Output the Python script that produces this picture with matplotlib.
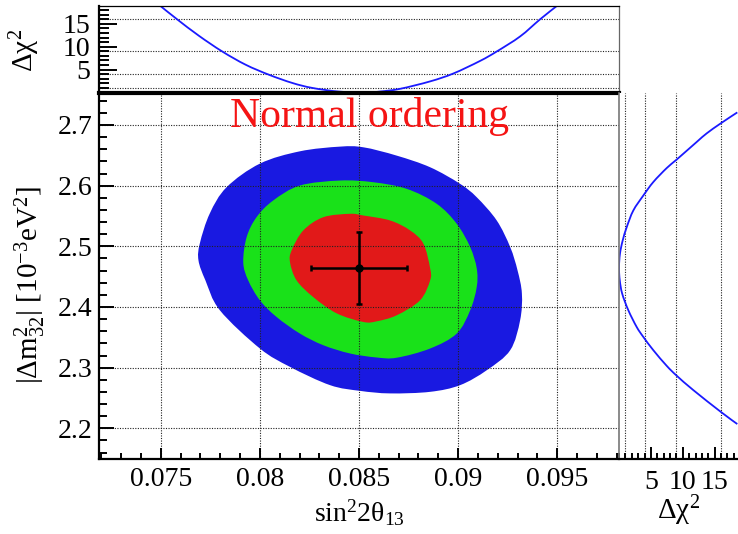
#!/usr/bin/env python
# -*- coding: utf-8 -*-
"""
Contornos de confiança em sin^2(2θ13) x |Δm²32| (ordenamento normal),
com os perfis de Δχ² no painel de cima e no painel da direita.
"""

import numpy as np
import matplotlib
matplotlib.use('Agg')
import matplotlib.pyplot as plt
from matplotlib.path import Path
from matplotlib.patches import PathPatch
from matplotlib.ticker import FixedLocator, FixedFormatter, MultipleLocator, NullLocator

# Configurações da figura
LARGURA_PX, ALTURA_PX = 738, 534
DPI = 100
ARQUIVO_SAIDA = 'out.png'

# Limites dos eixos
LIMITES_SIN2 = (0.07188, 0.09812)
LIMITES_DM2 = (2.1495, 2.7535)
LIMITES_CHI2_TOPO = (0.0, 18.9)
LIMITES_CHI2_LADO = (0.0, 18.65)

# Marcas e rótulos
TICKS_SIN2 = [0.075, 0.08, 0.085, 0.09, 0.095]
ROTULOS_SIN2 = ['0.075', '0.08', '0.085', '0.09', '0.095']
TICKS_DM2 = [2.2, 2.3, 2.4, 2.5, 2.6, 2.7]
ROTULOS_DM2 = ['2.2', '2.3', '2.4', '2.5', '2.6', '2.7']
TICKS_CHI2 = [5, 10, 15]
ROTULOS_CHI2 = ['5', '10', '15']
NIVEIS_SIGMA = [1, 4, 9, 16]  # grade dos perfis (1, 2, 3, 4 sigma)

TITULO = 'Normal ordering'
ROTULO_SIN2 = r'$\mathrm{sin}^{2}2\theta_{13}$'
ROTULO_DM2 = r'$|\Delta\mathrm{m}^{2}_{32}|\ [10^{-3}\mathrm{eV}^{2}]$'
ROTULO_CHI2 = r'$\Delta\chi^{2}$'

# Melhor ajuste e erros de 1 sigma
MELHOR_SIN2 = 0.0850
ERRO_SIN2 = 0.0024
MELHOR_DM2 = 2.4645
ERRO_DM2 = 0.059

# Contorno externo (azul)
AZUL_SIN2 = [0.08404, 0.08522, 0.08690, 0.08859, 0.09010, 0.09094, 0.09195,
             0.09263, 0.09300, 0.09322, 0.09313, 0.09263, 0.09145, 0.09010,
             0.08859, 0.08657, 0.08505, 0.08354, 0.08152, 0.08000, 0.07798,
             0.07725, 0.07690, 0.07697, 0.07747, 0.07832, 0.08000, 0.08202]
AZUL_DM2 = [2.6643, 2.6632, 2.6495, 2.6303, 2.6030, 2.5809, 2.5426,
            2.4987, 2.4604, 2.4220, 2.3781, 2.3288, 2.2959, 2.2712,
            2.2602, 2.2576, 2.2618, 2.2712, 2.3013, 2.3316, 2.3946,
            2.4439, 2.4768, 2.5050, 2.5541, 2.5974, 2.6363, 2.6566]

# Contorno intermediário (verde)
VERDE_SIN2 = [0.08404, 0.08572, 0.08741, 0.08892, 0.08993, 0.09061, 0.09094,
              0.09094, 0.09061, 0.08993, 0.08859, 0.08690, 0.08589, 0.08455,
              0.08320, 0.08202, 0.08084, 0.08000, 0.07941, 0.07916, 0.07933,
              0.07983, 0.08067, 0.08202]
VERDE_DM2 = [2.6084, 2.6056, 2.5947, 2.5701, 2.5372, 2.4987, 2.4637,
             2.4329, 2.3946, 2.3562, 2.3316, 2.3164, 2.3168, 2.3234,
             2.3370, 2.3562, 2.3836, 2.4110, 2.4439, 2.4735, 2.5151,
             2.5480, 2.5755, 2.6002]

# Contorno interno (vermelho)
VERMELHO_SIN2 = [0.08455, 0.08522, 0.08657, 0.08758, 0.08825, 0.08859, 0.08859,
                 0.08808, 0.08690, 0.08589, 0.08522, 0.08387, 0.08269, 0.08185,
                 0.08152, 0.08160, 0.08219, 0.08320]
VERMELHO_DM2 = [2.5536, 2.5508, 2.5426, 2.5262, 2.5043, 2.4637, 2.4439,
                2.4110, 2.3863, 2.3764, 2.3753, 2.3896, 2.4164, 2.4439,
                2.4735, 2.4933, 2.5262, 2.5480]

# Perfil de Δχ² em sin^2(2θ13) (painel de cima)
PERFIL_SIN2 = [0.07498, 0.07582, 0.07692, 0.07810, 0.07928, 0.08045, 0.08163,
               0.08264, 0.08399, 0.08534, 0.08606, 0.08707, 0.08859, 0.08976,
               0.09111, 0.09195, 0.09313, 0.09414, 0.09498]
PERFIL_SIN2_CHI2 = [18.9, 16.0, 12.4, 8.96, 6.07, 3.89, 2.09,
                    1.0, 0.20, 0.0, 0.21, 0.80, 2.43, 4.15,
                    6.9, 8.96, 12.25, 16.0, 18.9]

# Perfil de Δχ² em |Δm²32| (painel da direita)
PERFIL_DM2 = [2.7207, 2.7026, 2.6862, 2.6720, 2.6430, 2.6290, 2.6060, 2.5837,
              2.5590, 2.5316, 2.5097, 2.4878, 2.4650, 2.4439, 2.4220, 2.3947,
              2.3671, 2.3507, 2.3288, 2.3030, 2.2868, 2.2630, 2.2273, 2.2071]
PERFIL_DM2_CHI2 = [18.54, 15.94, 13.75, 12.18, 9.04, 7.48, 5.38, 3.81,
                   2.24, 1.21, 0.58, 0.15, 0.0, 0.12, 0.50, 1.46,
                   2.77, 3.81, 5.38, 7.48, 9.04, 11.65, 15.94, 18.54]

# Cores
COR_AZUL = '#1919e1'
COR_VERDE = '#19e119'
COR_VERMELHO = '#e11919'
COR_CURVA = '#1a1aff'
COR_TITULO = '#f51414'

ESTILO_GRADE = dict(color='#222222', linewidth=0.8, linestyle=(0, (1, 1.3)))


def px(x, y):
    """Converte pixels (origem no canto superior esquerdo) para fração da figura."""
    return x / LARGURA_PX, 1 - y / ALTURA_PX


def caixa(x0, y0, x1, y1):
    """Retângulo [esq, base, largura, altura] a partir de pixels."""
    return [x0 / LARGURA_PX, 1 - y1 / ALTURA_PX,
            (x1 - x0) / LARGURA_PX, (y1 - y0) / ALTURA_PX]


def caminho_suave(xs, ys, fechado):
    """Caminho de Bézier cúbico (Catmull-Rom) passando pelos pontos dados."""
    pts = np.column_stack([xs, ys])
    n = len(pts)
    vertices = [pts[0]]
    codigos = [Path.MOVETO]
    n_seg = n if fechado else n - 1
    for i in range(n_seg):
        if fechado:
            p0, p1, p2, p3 = pts[i - 1], pts[i], pts[(i + 1) % n], pts[(i + 2) % n]
        else:
            p0 = pts[max(i - 1, 0)]
            p1, p2 = pts[i], pts[i + 1]
            p3 = pts[min(i + 2, n - 1)]
        vertices += [p1 + (p2 - p0) / 6, p2 - (p3 - p1) / 6, p2]
        codigos += [Path.CURVE4] * 3
    if fechado:
        vertices.append(pts[0])
        codigos.append(Path.CLOSEPOLY)
    return Path(vertices, codigos)


def painel_principal(fig):
    ax = fig.add_axes(caixa(99, 92.5, 619, 459))

    contornos = [
        (AZUL_SIN2, AZUL_DM2, COR_AZUL),
        (VERDE_SIN2, VERDE_DM2, COR_VERDE),
        (VERMELHO_SIN2, VERMELHO_DM2, COR_VERMELHO),
    ]
    for ordem, (xs, ys, cor) in enumerate(contornos):
        ax.add_patch(PathPatch(caminho_suave(xs, ys, True), facecolor=cor,
                               edgecolor='none', zorder=1 + 0.1 * ordem))

    ax.errorbar(MELHOR_SIN2, MELHOR_DM2, xerr=ERRO_SIN2, yerr=ERRO_DM2,
                fmt='o', color='k', ms=5, elinewidth=1.8, capsize=2,
                capthick=1.8, zorder=4)

    ax.set_xlim(*LIMITES_SIN2)
    ax.set_ylim(*LIMITES_DM2)

    ax.xaxis.set_major_locator(FixedLocator(TICKS_SIN2))
    ax.xaxis.set_major_formatter(FixedFormatter(ROTULOS_SIN2))
    ax.xaxis.set_minor_locator(MultipleLocator(0.001))
    ax.yaxis.set_major_locator(FixedLocator(TICKS_DM2))
    ax.yaxis.set_major_formatter(FixedFormatter(ROTULOS_DM2))
    ax.yaxis.set_minor_locator(MultipleLocator(0.02))

    ax.set_axisbelow(False)
    ax.grid(True, which='major', **ESTILO_GRADE)

    ax.tick_params(axis='both', which='both', direction='in', width=1.4,
                   labelsize=20, top=False, right=False)
    ax.tick_params(axis='x', which='major', length=8, pad=6)
    ax.tick_params(axis='x', which='minor', length=4)
    ax.tick_params(axis='y', which='major', length=11, pad=5)
    ax.tick_params(axis='y', which='minor', length=5.5)

    for lado in ('top', 'right'):
        ax.spines[lado].set_visible(False)
    for lado in ('left', 'bottom'):
        ax.spines[lado].set_linewidth(1.6)
    return ax


def painel_topo(fig):
    ax = fig.add_axes(caixa(99, 6, 619, 92.5))
    ax.add_patch(PathPatch(caminho_suave(PERFIL_SIN2, PERFIL_SIN2_CHI2, False),
                           facecolor='none', edgecolor=COR_CURVA, lw=1.3))

    ax.set_xlim(*LIMITES_SIN2)
    ax.set_ylim(*LIMITES_CHI2_TOPO)
    ax.xaxis.set_major_locator(NullLocator())
    ax.yaxis.set_major_locator(FixedLocator(TICKS_CHI2))
    ax.yaxis.set_major_formatter(FixedFormatter(ROTULOS_CHI2))
    ax.yaxis.set_minor_locator(MultipleLocator(1))

    for nivel in NIVEIS_SIGMA:
        ax.axhline(nivel, zorder=0.5, **ESTILO_GRADE)

    ax.tick_params(axis='y', which='both', direction='in', width=1.4,
                   labelsize=20, right=False, pad=6)
    ax.tick_params(axis='y', which='major', length=13)
    ax.tick_params(axis='y', which='minor', length=7)

    ax.spines['left'].set_linewidth(1.6)
    ax.spines['bottom'].set_linewidth(3.0)
    ax.spines['top'].set_linewidth(0.9)
    ax.spines['right'].set_linewidth(0.9)
    ax.spines['right'].set_color('#666666')
    return ax


def painel_lado(fig):
    ax = fig.add_axes(caixa(619, 92.5, 738, 459))
    ax.add_patch(PathPatch(caminho_suave(PERFIL_DM2_CHI2, PERFIL_DM2, False),
                           facecolor='none', edgecolor=COR_CURVA, lw=1.3))

    ax.set_xlim(*LIMITES_CHI2_LADO)
    ax.set_ylim(*LIMITES_DM2)
    ax.yaxis.set_major_locator(NullLocator())
    ax.xaxis.set_major_locator(FixedLocator(TICKS_CHI2))
    ax.xaxis.set_major_formatter(FixedFormatter(ROTULOS_CHI2))
    ax.xaxis.set_minor_locator(MultipleLocator(1))

    for nivel in NIVEIS_SIGMA:
        ax.axvline(nivel, zorder=0.5, **ESTILO_GRADE)

    ax.tick_params(axis='x', which='both', direction='in', width=1.4,
                   labelsize=20, top=False, pad=8)
    ax.tick_params(axis='x', which='major', length=9)
    ax.tick_params(axis='x', which='minor', length=4.5)

    ax.spines['top'].set_visible(False)
    ax.spines['right'].set_visible(False)
    ax.spines['bottom'].set_linewidth(1.6)
    ax.spines['left'].set_linewidth(1.2)
    ax.spines['left'].set_color('#777777')
    return ax


def main():
    plt.rcParams['font.family'] = ['Liberation Serif', 'DejaVu Serif']
    plt.rcParams['mathtext.fontset'] = 'custom'
    plt.rcParams['mathtext.rm'] = 'Liberation Serif'
    plt.rcParams['mathtext.it'] = 'Liberation Serif'
    plt.rcParams['mathtext.bf'] = 'Liberation Serif:bold'

    fig = plt.figure(figsize=(LARGURA_PX / DPI, ALTURA_PX / DPI), dpi=DPI)

    painel_principal(fig)
    painel_topo(fig)
    painel_lado(fig)

    # Títulos dos eixos e legenda do ordenamento
    fig.text(*px(369, 116), TITULO, color=COR_TITULO, fontsize=30,
             ha='center', va='center')
    fig.text(*px(359, 513), ROTULO_SIN2, fontsize=20, ha='center', va='center')
    fig.text(*px(30, 285), ROTULO_DM2, fontsize=21, rotation=90,
             ha='center', va='center')
    fig.text(*px(25, 50), ROTULO_CHI2, fontsize=21, rotation=90,
             ha='center', va='center')
    fig.text(*px(679, 511), ROTULO_CHI2, fontsize=21, ha='center', va='center')

    fig.savefig(ARQUIVO_SAIDA, dpi=DPI)
    print(f"✅ Figura salva como '{ARQUIVO_SAIDA}'")


if __name__ == "__main__":
    main()
